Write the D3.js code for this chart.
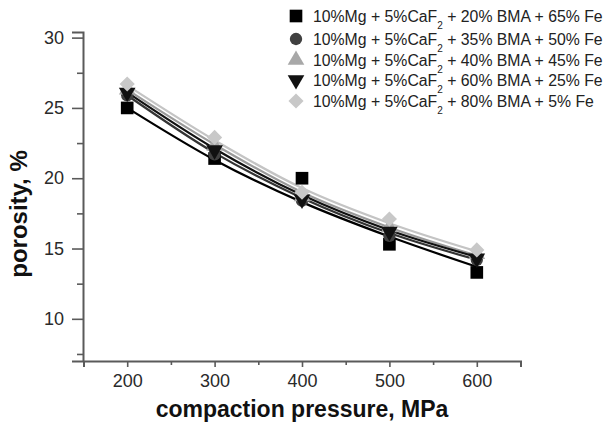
<!DOCTYPE html>
<html><head><meta charset="utf-8">
<script src="https://cdn.jsdelivr.net/npm/d3@7"></script>
<style>body{margin:0;background:#fff}svg{display:block}</style>
</head><body>
<svg id="c" width="608" height="427"></svg>
<script>
const pressures = [200, 300, 400, 500, 600];
const legendLabels = [
  ["10%Mg + 5%CaF", "2", " + 20% BMA + 65% Fe"],
  ["10%Mg + 5%CaF", "2", " + 35% BMA + 50% Fe"],
  ["10%Mg + 5%CaF", "2", " + 40% BMA + 45% Fe"],
  ["10%Mg + 5%CaF", "2", " + 60% BMA + 25% Fe"],
  ["10%Mg + 5%CaF", "2", " + 80% BMA + 5% Fe"]
];
const sq  = [25.0, 21.4, 20.0, 15.3, 13.3];
const ci  = [25.9, 21.7, 18.4, 15.9, 14.2];
const tu  = [26.3, 22.3, 18.7, 16.5, 14.6];
const td  = [26.1, 22.0, 18.5, 16.2, 14.3];
const di  = [26.7, 22.9, 19.0, 17.1, 14.9];
// fitted trend lines
const sqFit = [25.0, 21.3, 18.3, 15.85, 13.7];
const ciFit = [25.9, 21.8, 18.6, 16.1, 14.2];
const tuFit = [26.3, 22.4, 19.0, 16.5, 14.5];
const tdFit = [26.1, 22.1, 18.8, 16.3, 14.4];
const diFit = [26.6, 22.7, 19.3, 16.8, 14.8];
const xTicks = [200, 300, 400, 500, 600];
const yTicks = [10, 15, 20, 25, 30];

const series = [
  {v: sq, f: sqFit, sym: d3.symbolSquare, size: 160, fill: "#000", line: "#000"},
  {v: ci, f: ciFit, sym: d3.symbolCircle, size: 120, fill: "#404040", line: "#333"},
  {v: tu, f: tuFit, sym: d3.symbolTriangle, size: 120, fill: "#a8a8a8", line: "#9a9a9a"},
  {v: td, f: tdFit, sym: d3.symbolTriangle, size: 120, fill: "#111", line: "#111", rot: 180},
  {v: di, f: diFit, sym: d3.symbolSquare, size: 115, fill: "#c8c8c8", line: "#c4c4c4", rot: 45}
];

const svg = d3.select("#c");
const x = d3.scaleLinear().domain([150, 650]).range([83.5, 520.5]);
const y = d3.scaleLinear().domain([7, 30.4]).range([361, 32]);
const FONT = "Liberation Sans, Arial, sans-serif";
const axisColor = "#5a5a5a";

const gx = svg.append("g").attr("transform", "translate(0,361)")
  .call(d3.axisBottom(x).tickValues(xTicks).tickSize(6).tickFormat(d3.format("d")));
const gxm = svg.append("g").attr("transform", "translate(0,361)")
  .call(d3.axisBottom(x).tickValues([250, 350, 450, 550, 650]).tickSize(4).tickFormat(""));
const gy = svg.append("g").attr("transform", "translate(83,0)")
  .call(d3.axisLeft(y).tickValues(yTicks).tickSize(11).tickPadding(8));
const gym = svg.append("g").attr("transform", "translate(83,0)")
  .call(d3.axisLeft(y).tickValues([7.5, 12.5, 17.5, 22.5, 27.5]).tickSize(6).tickFormat(""));
[gx, gxm, gy, gym].forEach(g => {
  g.selectAll("path").attr("stroke", axisColor).attr("stroke-width", 2);
  g.selectAll("line").attr("stroke", axisColor).attr("stroke-width", 1.6);
  g.selectAll("text").attr("font-family", FONT).attr("font-size", 18).attr("fill", "#2a2a2a");
});
gxm.select("path").remove(); gym.select("path").remove();
gx.selectAll("text").attr("dy", null).attr("y", 26);

svg.append("text").attr("x", 302).attr("y", 417).attr("text-anchor", "middle")
  .attr("font-family", FONT).attr("font-weight", "bold")
  .attr("font-size", 23).attr("fill", "#111").text("compaction pressure, MPa");
svg.append("text").attr("transform", "translate(27,214) rotate(-90)").attr("text-anchor", "middle")
  .attr("font-family", FONT).attr("font-weight", "bold")
  .attr("font-size", 24).attr("fill", "#111").text("porosity, %");

const line = d3.line().x((d, i) => x(pressures[i])).y(d => y(d)).curve(d3.curveMonotoneX);
series.forEach(s => {
  svg.append("path").attr("d", line(s.f)).attr("fill", "none")
    .attr("stroke", s.line).attr("stroke-width", 2.2);
});
series.forEach(s => {
  svg.append("g").selectAll("path").data(s.v).join("path")
    .attr("d", d3.symbol(s.sym, s.size)())
    .attr("transform", (d, i) => `translate(${x(pressures[i])},${y(d)}) rotate(${s.rot || 0})`)
    .attr("fill", s.fill);
});

// legend
const lg = svg.append("g");
const rows = [16, 39, 60, 80, 101];
series.forEach((s, i) => {
  lg.append("path")
    .attr("d", d3.symbol(s.sym, s.size)())
    .attr("transform", `translate(296,${rows[i]}) rotate(${s.rot || 0})`)
    .attr("fill", s.fill);
  const t = lg.append("text").attr("x", 313).attr("y", rows[i] + 6)
    .attr("font-family", FONT).attr("font-size", 15.8).attr("fill", "#222");
  t.append("tspan").text(legendLabels[i][0]);
  t.append("tspan").attr("font-size", 10).attr("dy", 7).text(legendLabels[i][1]);
  t.append("tspan").attr("dy", -7).text(legendLabels[i][2]);
});
</script>
</body></html>
